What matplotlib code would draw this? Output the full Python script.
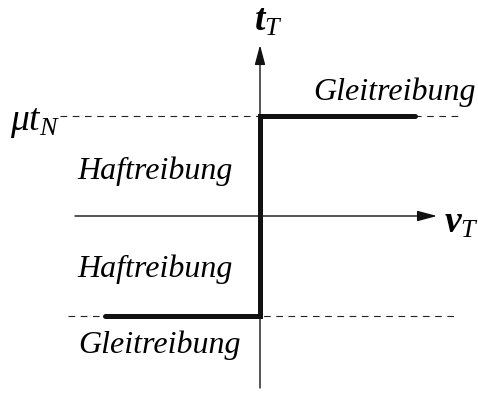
import numpy as np
import matplotlib
matplotlib.use('Agg')
import matplotlib.pyplot as plt

# step friction law (units: mu*t_N = 1)
v = [-1.55, 0.0, 0.0, 1.55]
t = [-1.0, -1.0, 1.0, 1.0]
mu_tN = 1.0

plt.rcParams['mathtext.fontset'] = 'custom'
plt.rcParams['mathtext.rm'] = 'Liberation Serif'
plt.rcParams['mathtext.it'] = 'Liberation Serif:italic'
plt.rcParams['mathtext.bf'] = 'Liberation Serif:bold:italic'
plt.rcParams['font.family'] = 'Liberation Serif'

fig = plt.figure(figsize=(4.78, 3.97), dpi=100)
ax = fig.add_axes([0, 0, 1, 1])
ax.set_xlim(-2.60, 2.18)
ax.set_ylim(-1.81, 2.16)
ax.axis('off')

fs = 23

# dashed levels
ax.plot([-2.0, 1.98], [mu_tN, mu_tN], color='#222222', lw=0.8, dashes=(6, 5))
ax.plot([-1.92, 1.98], [-mu_tN, -mu_tN], color='#222222', lw=0.8, dashes=(6, 5))

# axes with arrows
arrow = dict(arrowstyle='-|>,head_length=0.6,head_width=0.16', color='#111111',
             lw=1.0, mutation_scale=20, shrinkA=0, shrinkB=0)
ax.annotate('', xy=(1.77, 0), xytext=(-1.85, 0), arrowprops=arrow)
ax.annotate('', xy=(0, 1.71), xytext=(0, -1.72), arrowprops=arrow)

# friction curve
ax.plot(v, t, color='#111111', lw=3.6, solid_capstyle='round', solid_joinstyle='miter')

ax.text(0.08, 1.95, r'$\mathbf{t}_T$', fontsize=27, ha='center', va='center')
ax.text(1.84, -0.07, r'$\mathbf{v}_T$', fontsize=27, ha='left', va='center')
ax.text(-2.50, 0.93, r'$\mu t_N$', fontsize=27, ha='left', va='center')

ax.text(0.53, 1.16, 'Gleitreibung', fontsize=fs, style='italic', ha='left', va='baseline')
ax.text(-1.83, 0.37, 'Haftreibung', fontsize=fs, style='italic', ha='left', va='baseline')
ax.text(-1.83, -0.61, 'Haftreibung', fontsize=fs, style='italic', ha='left', va='baseline')
ax.text(-1.82, -1.37, 'Gleitreibung', fontsize=fs, style='italic', ha='left', va='baseline')

fig.savefig('out.png', dpi=100)
